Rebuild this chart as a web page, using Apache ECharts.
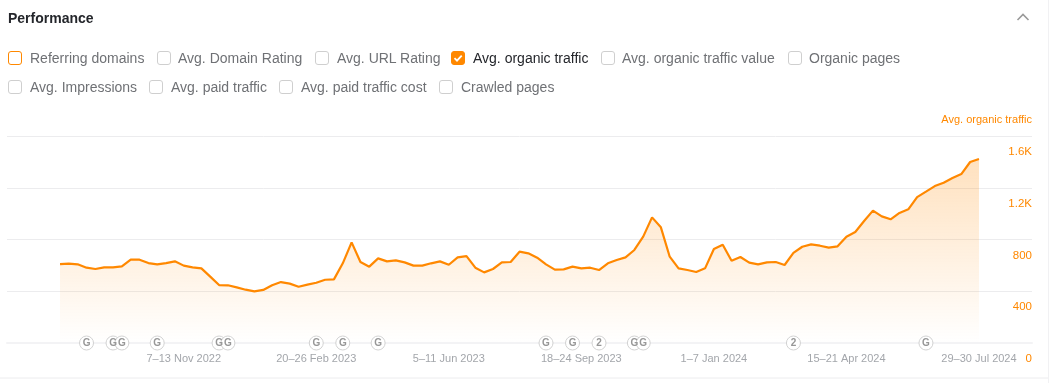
<!DOCTYPE html>
<html>
<head>
<meta charset="utf-8">
<script src="https://cdn.jsdelivr.net/npm/echarts@6/dist/echarts.min.js"></script>
<style>
  html, body { margin: 0; padding: 0; background: #fff; }
  body { width: 1051px; height: 383px; overflow: hidden; position: relative; font-family: "Liberation Sans", Arial, sans-serif; }
  #chart { position: absolute; left: 0; top: 0; width: 1051px; height: 383px; }
  .title { position: absolute; left: 8px; top: 9px; font-size: 14px; line-height: 18px; font-weight: bold; color: #24262b; }
  .chevron { position: absolute; left: 1016px; top: 12px; }
  .box { position: absolute; width: 12px; height: 12px; border: 1px solid #cfcfcf; border-radius: 3px; background: #fff; }
  .box.accent { border-color: #ff8800; }
  .box.on { border-color: #ff8800; background: #ff8800; }
  .box svg { position: absolute; left: 0; top: 0; }
  .label { position: absolute; font-size: 14px; line-height: 18px; color: #6f7175; white-space: nowrap; }
  .label.on { color: #24262b; }
</style>
</head>
<body>
<div id="chart"></div>
<div class="title">Performance</div>
<svg class="chevron" width="14" height="10"><path d="M1.5 8 L7 2.5 L12.5 8" fill="none" stroke="#9a9a9a" stroke-width="1.6"/></svg>
<div id="filters"></div>
<script>
// weekly values, Aug 2022 to Jul 2024
const traffic = [
  610, 613, 608, 582, 572, 585, 585, 592, 644, 644,
  618, 608, 618, 631, 598, 585, 577, 513, 448, 446,
  430, 412, 399, 410, 446, 471, 459, 435, 451, 466,
  489, 492, 616, 778, 626, 590, 654, 631, 639, 623,
  598, 598, 616, 631, 605, 662, 672, 582, 546, 572,
  623, 626, 706, 693, 659, 608, 567, 569, 590, 577,
  582, 564, 616, 641, 662, 719, 822, 971, 894, 667,
  577, 564, 549, 577, 726, 760, 636, 665, 621, 608,
  623, 626, 603, 696, 744, 762, 752, 737, 747, 822,
  858, 943, 1023, 979, 956, 1005, 1033, 1128, 1170, 1213,
  1239, 1275, 1306, 1399, 1422
];
const tickWeeks = [14, 29, 44, 59, 74, 89, 104];
const tickLabels = ['7–13 Nov 2022', '20–26 Feb 2023', '5–11 Jun 2023', '18–24 Sep 2023', '1–7 Jan 2024', '15–21 Apr 2024', '29–30 Jul 2024'];
const markerWeeks = [3, 6, 7, 11, 18, 19, 29, 32, 36, 55, 58, 61, 65, 66, 83, 98];
const markerLabels = ['G', 'G', 'G', 'G', 'G', 'G', 'G', 'G', 'G', 'G', 'G', '2', 'G', 'G', '2', 'G'];
const filterNames = ['Referring domains', 'Avg. Domain Rating', 'Avg. URL Rating', 'Avg. organic traffic', 'Avg. organic traffic value', 'Organic pages', 'Avg. Impressions', 'Avg. paid traffic', 'Avg. paid traffic cost', 'Crawled pages'];

// checkbox row above the chart
const filterX = [[8, 30], [157, 178], [315, 337], [451, 473], [601, 622], [788, 809], [8, 30], [149, 171], [279, 301], [439, 461]];
const filtersEl = document.getElementById('filters');
filterNames.forEach((name, i) => {
  const y = i < 6 ? 58 : 87;
  const box = document.createElement('div');
  box.className = 'box' + (i === 0 ? ' accent' : '') + (i === 3 ? ' on' : '');
  box.style.left = filterX[i][0] + 'px';
  box.style.top = (y - 7) + 'px';
  if (i === 3) {
    box.innerHTML = '<svg width="12" height="12"><path d="M2.5 6.2 L5 8.7 L9.7 3.6" fill="none" stroke="#fff" stroke-width="1.8"/></svg>';
  }
  const label = document.createElement('div');
  label.className = 'label' + (i === 3 ? ' on' : '');
  label.style.left = filterX[i][1] + 'px';
  label.style.top = (y - 9) + 'px';
  label.textContent = name;
  filtersEl.appendChild(box);
  filtersEl.appendChild(label);
});

// the axis runs past the data on both sides, so pad the categories
const padLeft = 6;
const padRight = 6;
const categories = [];
const values = [];
for (let i = 0; i < padLeft + traffic.length + padRight; i++) {
  const week = i - padLeft;
  const t = tickWeeks.indexOf(week);
  categories.push(t >= 0 ? tickLabels[t] : ' '.repeat(i + 1));
  values.push(week >= 0 && week < traffic.length ? traffic[week] : null);
}

const chart = echarts.init(document.getElementById('chart'));
chart.setOption({
  animation: false,
  textStyle: { fontFamily: '"Liberation Sans", Arial, sans-serif' },
  grid: { left: 7, top: 136, width: 1025, height: 207, containLabel: false },
  xAxis: {
    type: 'category',
    data: categories,
    boundaryGap: false,
    axisLine: { lineStyle: { color: '#f3f3f5', width: 2 } },
    axisTick: { show: false },
    splitLine: { show: false },
    axisLabel: {
      interval: (i, val) => val.trim() !== '',
      color: '#a3a6ab',
      fontSize: 11,
      margin: 10,
      hideOverlap: false
    }
  },
  yAxis: {
    type: 'value',
    position: 'right',
    min: 0,
    max: 1600,
    interval: 400,
    name: 'Avg. organic traffic',
    nameLocation: 'end',
    nameGap: 11,
    nameTextStyle: { color: '#ff8800', fontSize: 11, align: 'right', padding: [0, 0, 0, 0] },
    axisLine: { show: false },
    axisTick: { show: false },
    splitLine: { lineStyle: { color: '#ececee', width: 1 } },
    axisLabel: {
      inside: true,
      margin: 0,
      color: '#ff8800',
      fontSize: 11.5,
      align: 'right',
      verticalAlign: 'top',
      padding: [10, 0, 0, 0],
      formatter: v => (v >= 1000 ? (v / 1000) + 'K' : String(v))
    }
  },
  series: [
    {
      type: 'line',
      data: values,
      showSymbol: false,
      connectNulls: false,
      lineStyle: { color: '#ff8800', width: 2.2 },
      itemStyle: { color: '#ff8800' },
      areaStyle: {
        color: new echarts.graphic.LinearGradient(0, 0, 0, 1, [
          { offset: 0, color: 'rgba(255,136,0,0.36)' },
          { offset: 1, color: 'rgba(255,136,0,0)' }
        ])
      },
      z: 2
    },
    {
      type: 'scatter',
      data: markerWeeks.map((w, i) => ({ value: [w + padLeft, 0], name: markerLabels[i] })),
      symbol: 'circle',
      symbolSize: 14,
      clip: false,
      itemStyle: { color: '#fff', borderColor: '#d2d2d2', borderWidth: 1, opacity: 1 },
      label: {
        show: true,
        position: 'inside',
        formatter: p => p.name,
        color: '#979797',
        fontSize: 10,
        fontWeight: 'bold'
      },
      z: 3
    }
  ],
  graphic: [
    { type: 'line', shape: { x1: 0, y1: 378, x2: 1048, y2: 378 }, style: { stroke: '#ececee', lineWidth: 1 } },
    { type: 'line', shape: { x1: 1048.5, y1: 0, x2: 1048.5, y2: 383 }, style: { stroke: '#f1f1f3', lineWidth: 1 } }
  ]
});

window.addEventListener('resize', () => chart.resize());
</script>
</body>
</html>
